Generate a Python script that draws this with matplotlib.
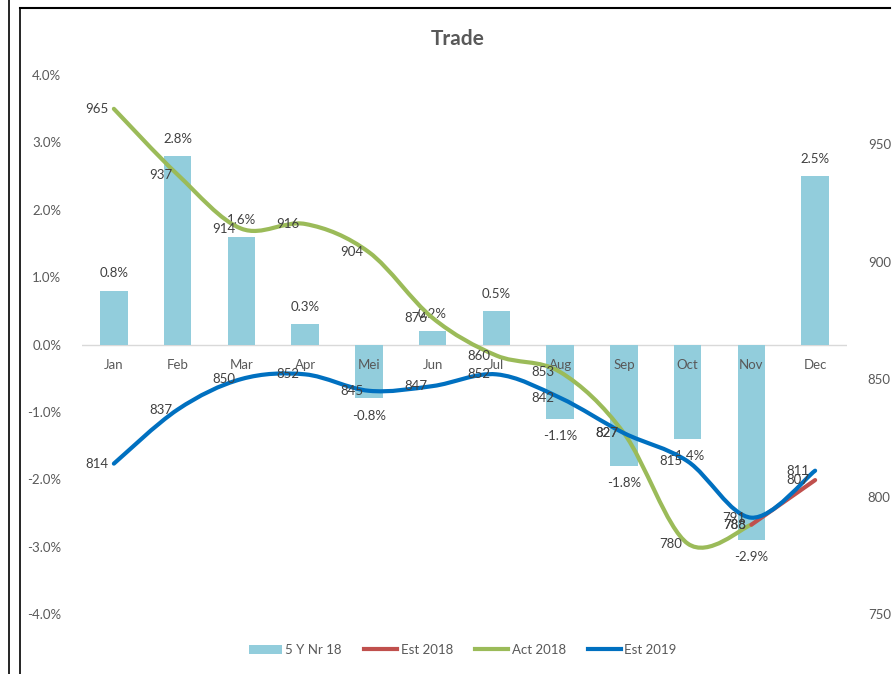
import numpy as np
import matplotlib
matplotlib.use("Agg")
import matplotlib.pyplot as plt
from matplotlib.path import Path
from matplotlib.patches import PathPatch, Patch
from matplotlib.lines import Line2D

plt.rcParams["font.family"] = ["Lato", "DejaVu Sans"]

months = ["Jan", "Feb", "Mar", "Apr", "Mei", "Jun", "Jul", "Aug", "Sep", "Oct", "Nov", "Dec"]
five_yr = [0.8, 2.8, 1.6, 0.3, -0.8, 0.2, 0.5, -1.1, -1.8, -1.4, -2.9, 2.5]
act_2018 = [965, 937, 914, 916, 904, 876, 860, 853, 827, 780, 788, None]
est_2018 = [None] * 10 + [788, 807]
est_2019 = [814, 837, 850, 852, 845, 847, 852, 842, 827, 815, 791, 811]

BAR_C = "#92CDDC"
RED = "#C0504D"
GREEN = "#9BBB59"
BLUE = "#0070C0"
TXT = "#595959"
LBL = "#404040"

W, H = 895, 674
fig = plt.figure(figsize=(W / 100, H / 100), dpi=100)
ax = fig.add_axes([82 / W, 1 - 614 / H, (847 - 82) / W, (614 - 75) / H])
ax2 = ax.twinx()

x = np.arange(len(months))


def smooth_path(xs, ys):
    # Excel-like smoothed line: Catmull-Rom segments as cubic Beziers
    pts = np.column_stack([xs, ys]).astype(float)
    n = len(pts)
    verts = [pts[0]]
    codes = [Path.MOVETO]
    for i in range(n - 1):
        p0 = pts[i - 1] if i > 0 else pts[i]
        p1 = pts[i]
        p2 = pts[i + 1]
        p3 = pts[i + 2] if i + 2 < n else pts[i + 1]
        c1 = p1 + (p2 - p0) / 6.0
        c2 = p2 - (p3 - p1) / 6.0
        verts += [c1, c2, p2]
        codes += [Path.CURVE4] * 3
    return Path(verts, codes)


def draw_series(vals, color):
    idx = [i for i, v in enumerate(vals) if v is not None]
    xs = x[idx]
    ys = [vals[i] for i in idx]
    ax2.add_patch(PathPatch(smooth_path(xs, ys), facecolor="none", edgecolor=color,
                            lw=3, capstyle="round", zorder=3))
    for xi, yi in zip(xs, ys):
        ax2.annotate(f"{yi}", (xi, yi), xytext=(-4, 0), textcoords="offset points",
                     ha="right", va="center", fontsize=9.5, color=LBL, zorder=4)


# bars (left axis)
ax.bar(x, five_yr, width=0.43, color=BAR_C, zorder=2)
for xi, v in zip(x, five_yr):
    off = 8 if v >= 0 else -8
    ax.annotate(f"{v:.1f}%", (xi, v), xytext=(0, off), textcoords="offset points",
                ha="center", va="bottom" if v >= 0 else "top", fontsize=9.5, color=LBL)

ax.axhline(0, color="#D9D9D9", lw=1, zorder=1)
for xi, m in zip(x, months):
    ax.annotate(m, (xi, 0), xytext=(0, -15), textcoords="offset points",
                ha="center", va="center", fontsize=9.5, color=TXT)

ax.set_xlim(-0.5, len(months) - 0.5)
ax.set_ylim(-4, 4)
ax.set_yticks(np.arange(-4, 4.01, 1))
ax.set_yticklabels([f"{t:.1f}%" for t in np.arange(-4, 4.01, 1)])
ax.set_xticks([])
ax.tick_params(axis="y", length=0, pad=15, labelsize=9.5, labelcolor=TXT)

# lines (right axis)
draw_series(act_2018, GREEN)
draw_series(est_2018, RED)
draw_series(est_2019, BLUE)

ax2.set_ylim(750, 979.4)
ax2.set_yticks([750, 800, 850, 900, 950])
ax2.tick_params(axis="y", length=0, pad=15, labelsize=9.5, labelcolor=TXT)

for a in (ax, ax2):
    for s in a.spines.values():
        s.set_visible(False)

fig.text(458 / W, 1 - 39 / H, "Trade", ha="center", va="center",
         fontsize=15, fontweight="bold", color=TXT)

handles = [Patch(facecolor=BAR_C, edgecolor="none"),
           Line2D([], [], color=RED, lw=3),
           Line2D([], [], color=GREEN, lw=3),
           Line2D([], [], color=BLUE, lw=3)]
fig.legend(handles, ["5 Y Nr 18", "Est 2018", "Act 2018", "Est 2019"],
           loc="center", bbox_to_anchor=(463 / W, 1 - 650 / H), ncol=4, frameon=False,
           fontsize=9.5, labelcolor=TXT, handlelength=2.5, handletextpad=0.25,
           columnspacing=1.7)

# outer frame lines
fig.add_artist(Line2D([9.5 / W, 9.5 / W], [0, 1], color="black", lw=1.2))
fig.add_artist(Line2D([19.5 / W, 19.5 / W], [0, 1 - 8 / H], color="black", lw=1.2))
fig.add_artist(Line2D([19.5 / W, 890 / W], [1 - 8 / H, 1 - 8 / H], color="black", lw=1.5))

fig.savefig("out.png", dpi=100)
